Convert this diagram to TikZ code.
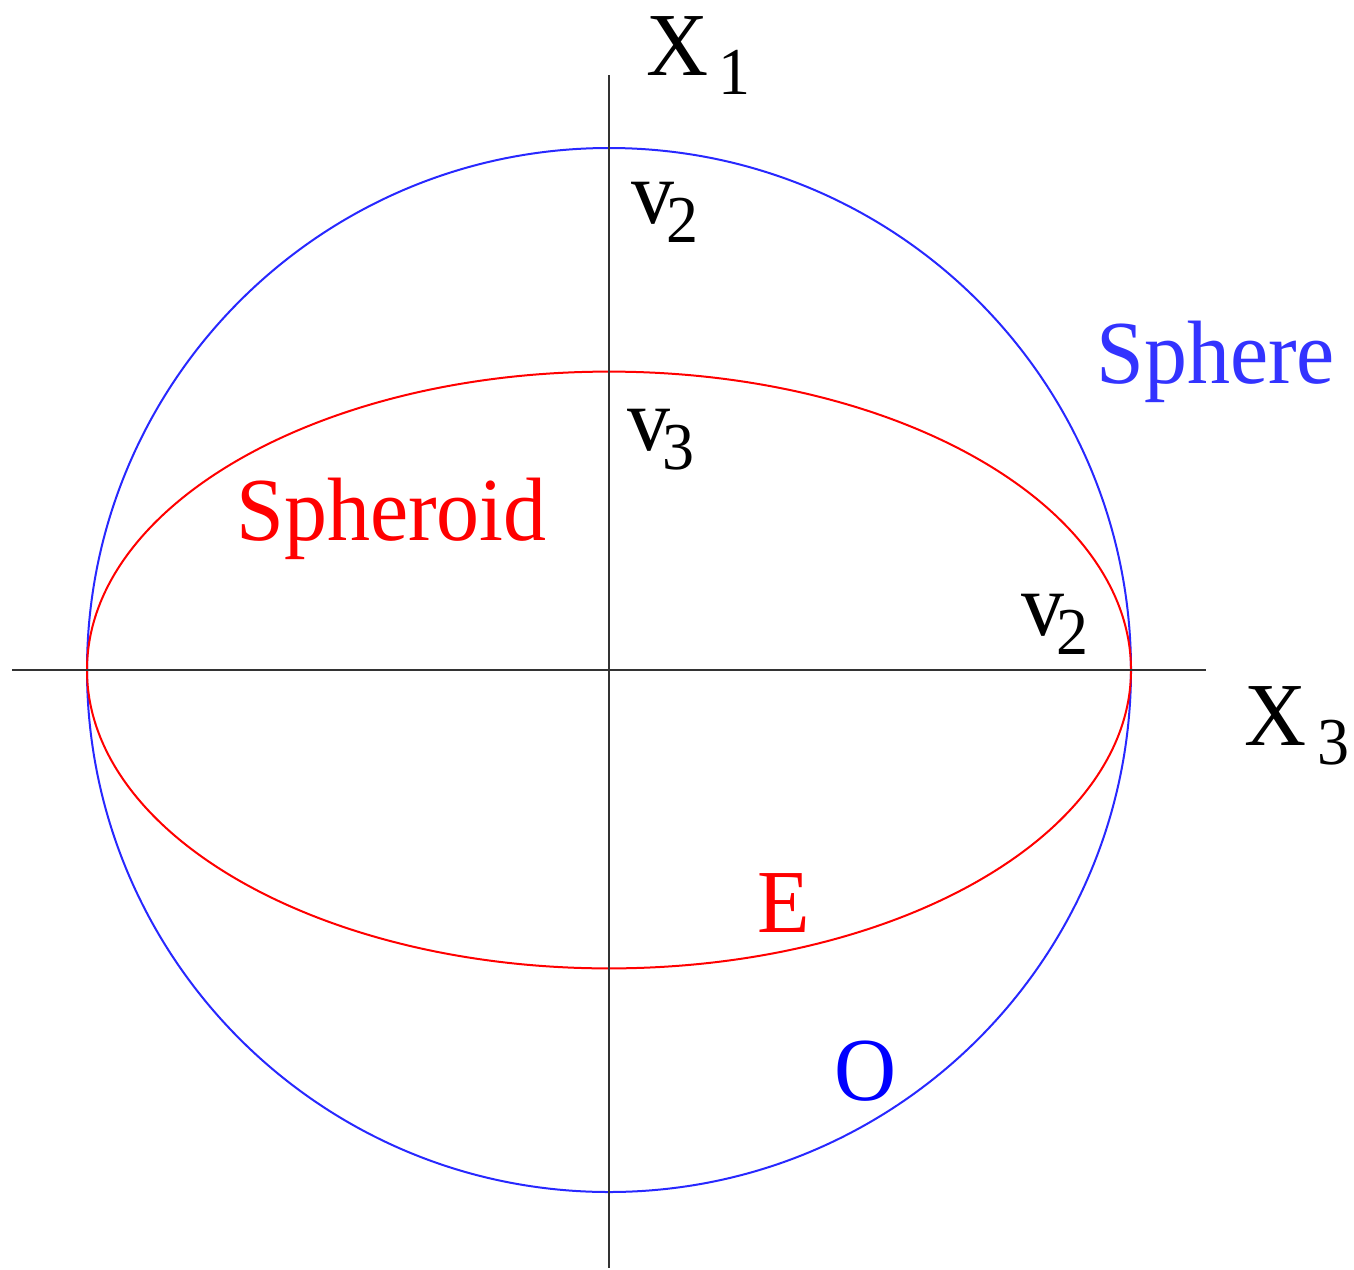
\documentclass[tikz,border=0pt]{standalone}
\usepackage{fontspec}
\setmainfont[FakeStretch=0.955]{Liberation Serif}
\definecolor{sphblue}{RGB}{51,51,255}
\definecolor{lineblue}{RGB}{40,40,255}
\begin{document}
\begin{tikzpicture}[x=0.5pt,y=-0.5pt,
  lbl/.style={anchor=base west,inner sep=0pt,font=\fontsize{45}{50}\selectfont},
  axis/.style={line width=1pt,black!80},
  curve/.style={line width=1pt}]
\newcommand{\subx}[1]{\raisebox{-9.5pt}{\fontsize{33.5}{36}\selectfont #1}}
\useasboundingbox (0,0) rectangle (1354,1269);
\coordinate (c) at (609,670);
\coordinate (ytop) at (609,75);
\coordinate (ybot) at (609,1268);
\coordinate (xl) at (12,670);
\coordinate (xr) at (1206,670);
\draw[curve,lineblue] (c) ellipse [x radius=261pt, y radius=261pt];
\draw[curve,red] (c) ellipse [x radius=261pt, y radius=149.2pt];
\draw[axis] (ytop) -- (ybot);
\draw[axis] (xl) -- (xr);
\node[lbl] (x1) at (646,75) {X\kern5pt\subx{1}};
\node[lbl] (x3) at (1244,745) {X\kern5.5pt\subx{3}};
\node[lbl] (v2a) at (631,223) {v\kern-4pt\subx{2}};
\node[lbl] (v3) at (627,450) {v\kern-4pt\subx{3}};
\node[lbl] (v2b) at (1021,635) {v\kern-4pt\subx{2}};
\node[lbl,text=sphblue] (sph) at (1096,383) {Sphere};
\node[lbl,text=red] (sphd) at (236,540) {Spheroid};
\node[lbl,text=red] (E) at (757,932) {E};
\node[lbl,text=blue] (O) at (834,1100) {O};
\end{tikzpicture}
\end{document}
